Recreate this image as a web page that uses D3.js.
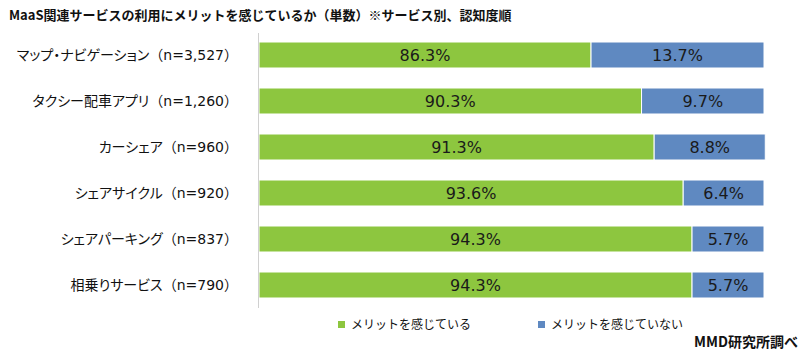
<!DOCTYPE html>
<html>
<head>
<meta charset="utf-8">
<script src="https://cdn.jsdelivr.net/npm/d3@7"></script>
<style>
  body { margin: 0; background: #fff; }
  svg { display: block; }
  .cat { font-family: "DejaVu Sans", "Noto Sans CJK JP", sans-serif; font-size: 14px; fill: #111; }
  .cat .nm { font-feature-settings: "palt"; }
  .val { font-family: "DejaVu Sans", Verdana, sans-serif; font-size: 16px; fill: #1a1a1a; }
  .title { font-family: "Noto Sans CJK JP", sans-serif; font-size: 13px; font-weight: bold; fill: #111; }
  .legend { font-family: "Noto Sans CJK JP", sans-serif; font-size: 12px; fill: #111; }
  .source { font-family: "Noto Sans CJK JP", sans-serif; font-size: 14px; font-weight: bold; fill: #111; }
</style>
</head>
<body>
<div id="chart"></div>
<script>
const categories = [
  'マップ・ナビゲーション（n=3,527）',
  'タクシー配車アプリ（n=1,260）',
  'カーシェア（n=960）',
  'シェアサイクル（n=920）',
  'シェアパーキング（n=837）',
  '相乗りサービス（n=790）'
];
const feelMerit   = [86.3, 90.3, 91.3, 93.6, 94.3, 94.3];
const noMerit     = [13.7, 9.7, 8.8, 6.4, 5.7, 5.7];
const seriesNames = ['メリットを感じている', 'メリットを感じていない'];
const colors      = ['#8dc63f', '#5f89c1'];

const width = 809, height = 364;
const svg = d3.select('#chart').append('svg')
  .attr('width', width).attr('height', height);

// the source chart's axis starts at 60%, not 0
const x = d3.scaleLinear().domain([60, 100]).range([259, 764]);
const y = d3.scaleBand().domain(categories).range([32, 308])
  .paddingInner(0.435).paddingOuter(0.2175);

const rows = categories.map((c, i) => ({
  cat: c,
  segs: [
    { s: 0, x0: 60, x1: feelMerit[i], v: feelMerit[i] },
    { s: 1, x0: feelMerit[i], x1: feelMerit[i] + noMerit[i], v: noMerit[i] }
  ]
}));

svg.append('text').attr('class', 'title')
  .attr('x', 9).attr('y', 20)
  .text('MaaS関連サービスの利用にメリットを感じているか（単数）※サービス別、認知度順');

const row = svg.selectAll('g.row').data(rows).join('g').attr('class', 'row');

row.selectAll('rect').data(d => d.segs.map(s => ({ ...s, cat: d.cat }))).join('rect')
  .attr('x', d => x(d.x0))
  .attr('y', d => y(d.cat))
  .attr('width', d => x(d.x1) - x(d.x0))
  .attr('height', y.bandwidth())
  .attr('fill', d => colors[d.s])
  .attr('stroke', '#fff').attr('stroke-width', 1);

row.selectAll('text.val').data(d => d.segs.map(s => ({ ...s, cat: d.cat }))).join('text')
  .attr('class', 'val')
  .attr('x', d => (x(d.x0) + x(d.x1)) / 2)
  .attr('y', d => y(d.cat) + y.bandwidth() / 2)
  .attr('dy', '0.36em')
  .attr('text-anchor', 'middle')
  .text(d => d.v.toFixed(1) + '%');

// category axis: just the labels and a light vertical line
svg.append('line')
  .attr('x1', 258.5).attr('x2', 258.5).attr('y1', 33).attr('y2', 308)
  .attr('stroke', '#d0d0d0').attr('stroke-width', 1);

const cat = svg.selectAll('text.cat').data(categories).join('text')
  .attr('class', 'cat')
  .attr('x', 238)
  .attr('y', d => y(d) + y.bandwidth() / 2)
  .attr('dy', '0.36em')
  .attr('text-anchor', 'end');
// name gets proportional kana, the bracketed n keeps full-width brackets
cat.append('tspan').attr('class', 'nm').text(d => d.slice(0, d.indexOf('（')));
cat.append('tspan').text(d => d.slice(d.indexOf('（')));

const legendX = [338, 538];
const lg = svg.selectAll('g.lg').data(seriesNames).join('g').attr('class', 'lg')
  .attr('transform', (d, i) => `translate(${legendX[i]},321)`);
lg.append('rect').attr('width', 7).attr('height', 7).attr('fill', (d, i) => colors[i]);
lg.append('text').attr('class', 'legend').attr('x', 13).attr('y', 3.5).attr('dy', '0.36em').text(d => d);

svg.append('text').attr('class', 'source')
  .attr('x', 798).attr('y', 347).attr('text-anchor', 'end')
  .text('MMD研究所調べ');
</script>
</body>
</html>
